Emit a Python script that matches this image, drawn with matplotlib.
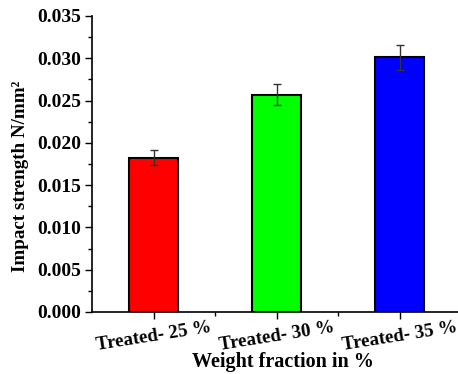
import matplotlib
matplotlib.use("Agg")
import matplotlib.pyplot as plt
from matplotlib.ticker import MultipleLocator, FixedLocator

categories = ["Treated- 25 %", "Treated- 30 %", "Treated- 35 %"]
values = [0.01825, 0.0257, 0.0301]
errors = [0.0009, 0.00125, 0.0015]
colors = ["#ff0000", "#00ff00", "#0000ff"]

plt.rcParams['font.family'] = ['Liberation Serif', 'DejaVu Serif']
plt.rcParams['font.weight'] = 'bold'

fig = plt.figure(figsize=(4.58, 3.74), dpi=100)
ax = fig.add_axes([92/458, 62/374, 369/458, 296/374])

x = list(range(1, len(categories) + 1))
ax.bar(x, values, width=0.4, color=colors, edgecolor='black', linewidth=1.5,
       yerr=errors, error_kw=dict(ecolor='#333333', elinewidth=1, capsize=3, capthick=1), zorder=2)

ax.set_xlim(0.5, 3.5)
ax.set_ylim(0, 0.035)
ax.yaxis.set_major_locator(MultipleLocator(0.005))
ax.yaxis.set_minor_locator(MultipleLocator(0.0025))
ax.set_xticks(x)
ax.xaxis.set_minor_locator(FixedLocator([1.5, 2.5]))
ax.set_yticklabels([f"{v:.3f}" for v in ax.get_yticks()], fontsize=14, fontweight='bold')
ax.set_xticklabels(categories, fontsize=13.7, fontweight='bold', rotation=9, ha='center')
ax.tick_params(axis='both', which='major', direction='out', length=5, width=1)
ax.tick_params(axis='both', which='minor', direction='out', length=3, width=1)
ax.tick_params(axis='x', pad=0)
ax.tick_params(axis='y', pad=3)

for s in ['top', 'right']:
    ax.spines[s].set_visible(False)
for s in ['left', 'bottom']:
    ax.spines[s].set_linewidth(1.2)

ax.set_ylabel("Impact strength N/mm²", fontsize=13.7, fontweight='bold')
ax.yaxis.set_label_coords(-0.172, 0.46)
ax.set_xlabel("Weight fraction in %", fontsize=14.5, fontweight='bold')
ax.xaxis.set_label_coords(0.518, -0.135)

fig.savefig("out.png", dpi=100)
